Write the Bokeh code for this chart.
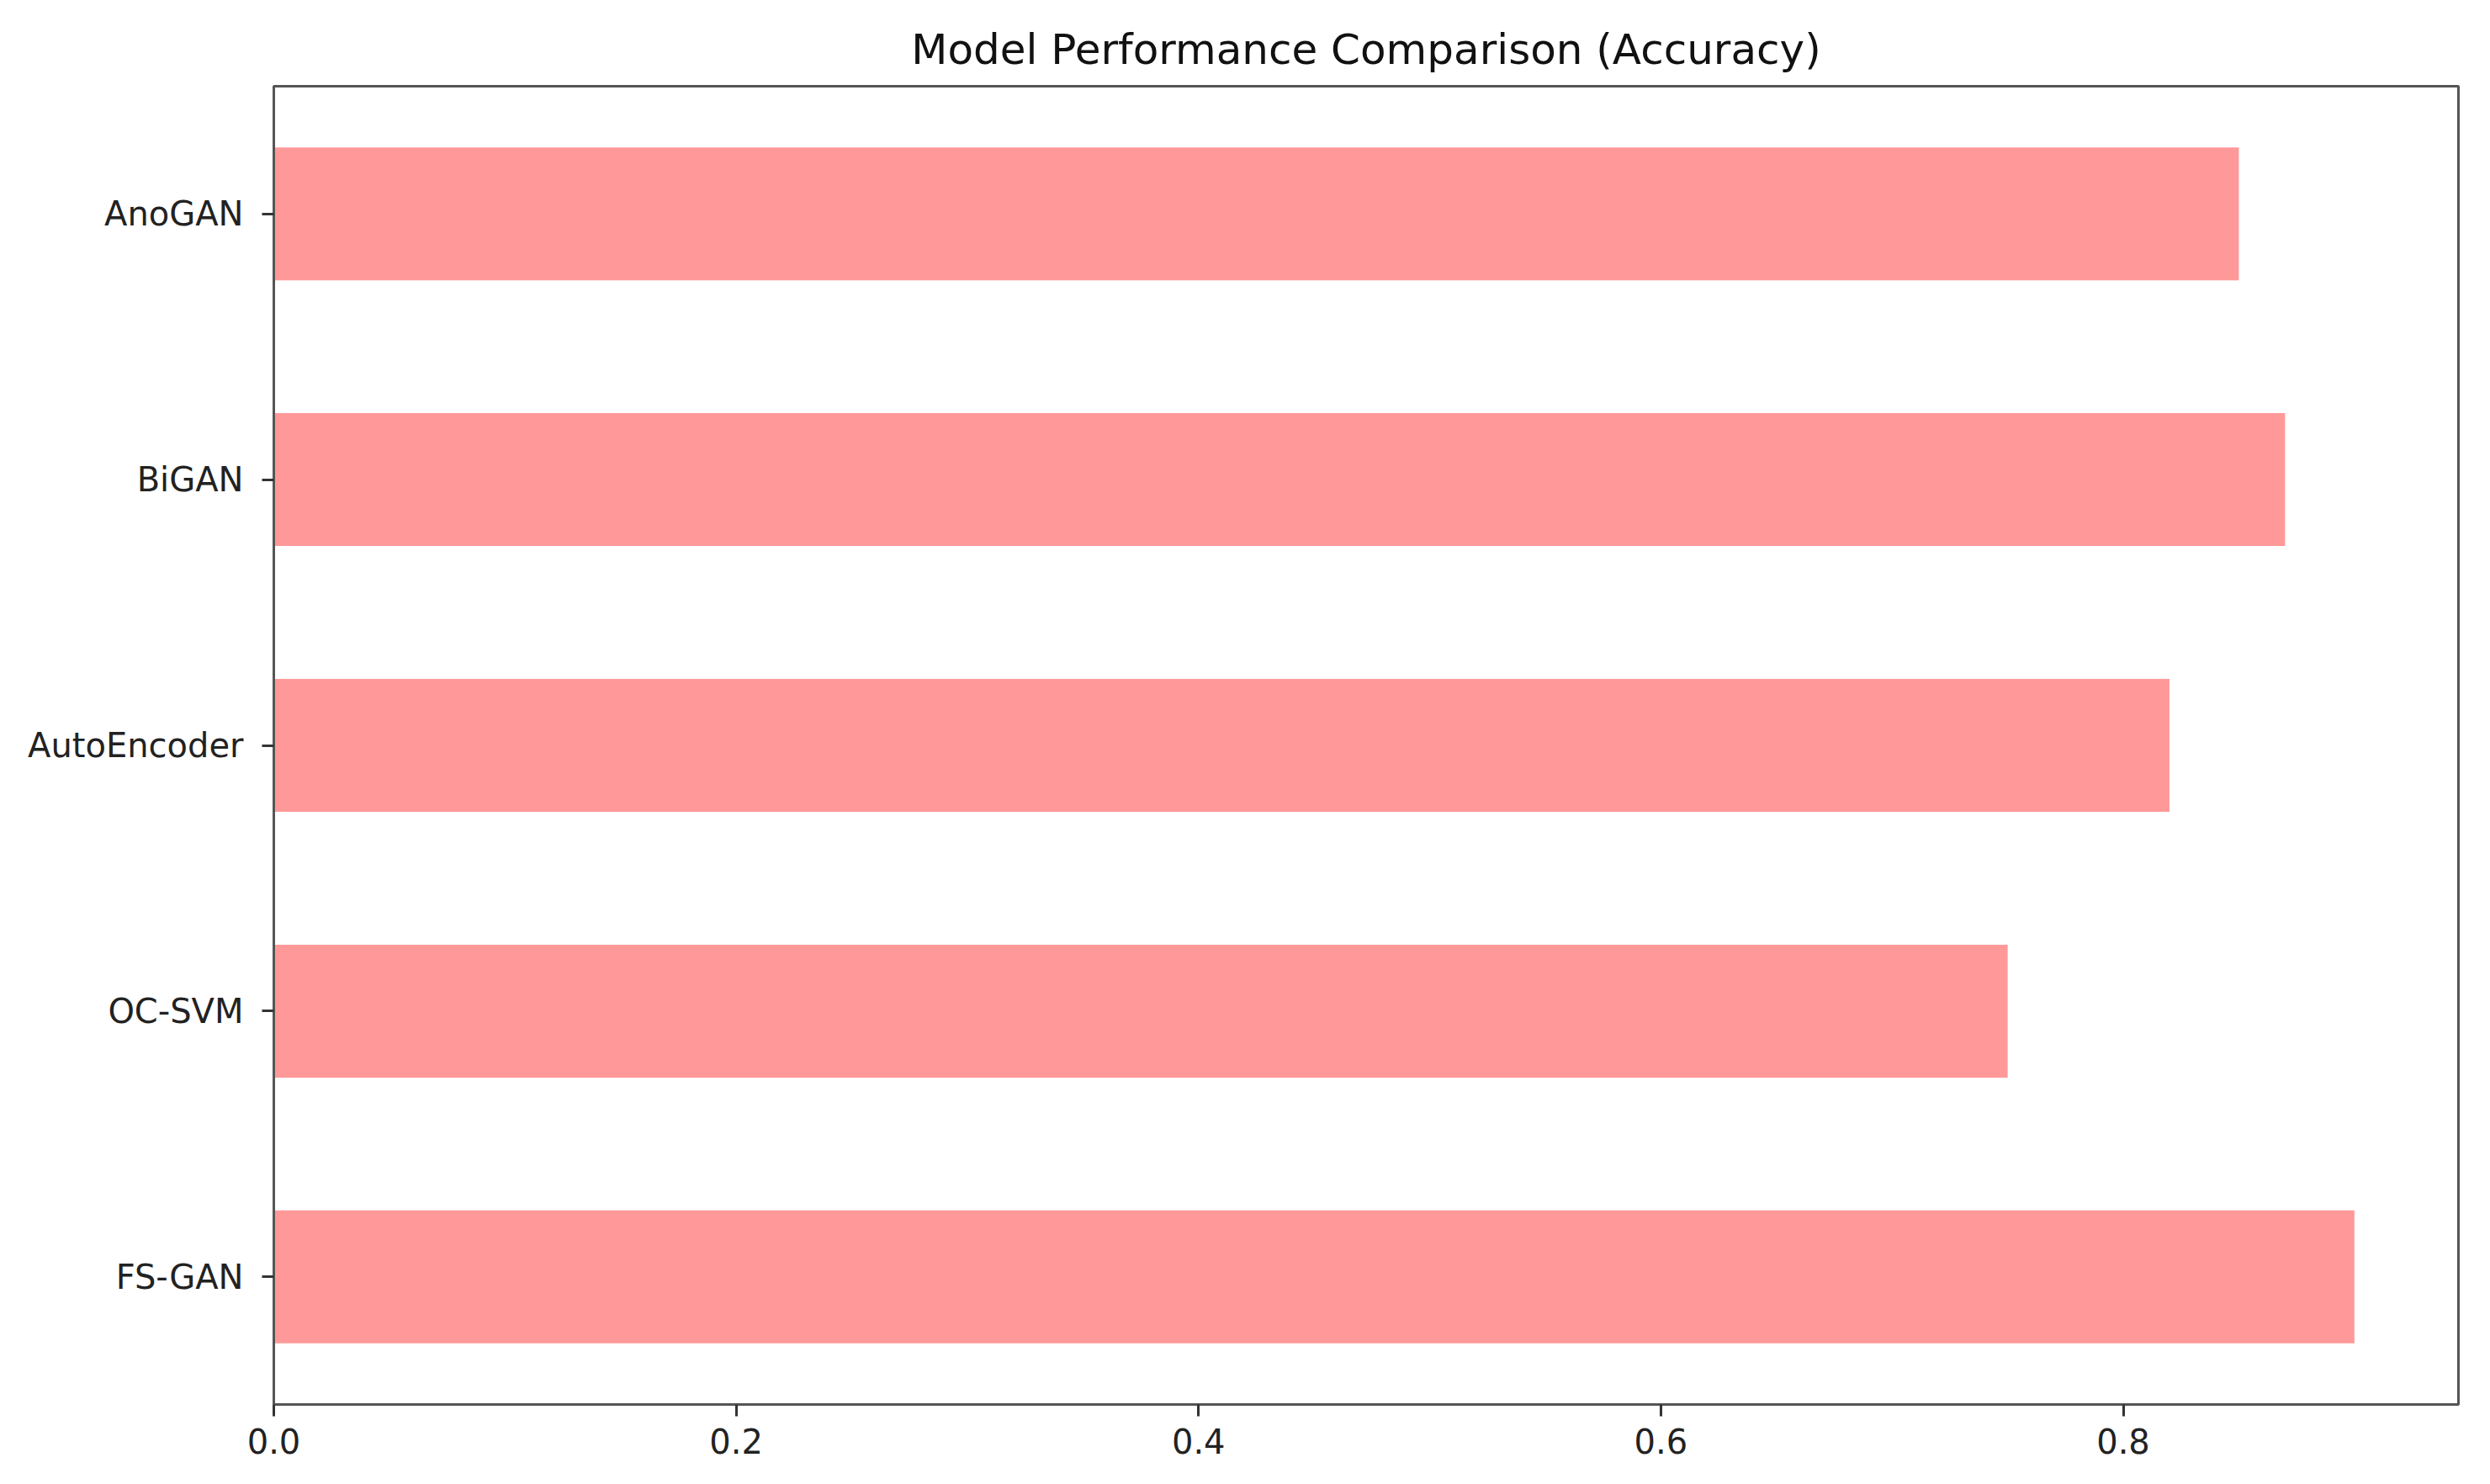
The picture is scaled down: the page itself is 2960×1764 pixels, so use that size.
from bokeh.plotting import figure
from bokeh.models import FactorRange, Range1d, FixedTicker, NumeralTickFormatter, ColumnDataSource
from bokeh.embed import file_html
from bokeh.resources import INLINE

# Data (bottom to top, as drawn)
models = ["FS-GAN", "OC-SVM", "AutoEncoder", "BiGAN", "AnoGAN"]
accuracy = [0.90, 0.75, 0.82, 0.87, 0.85]
x_ticks = [0.0, 0.2, 0.4, 0.6, 0.8]

source = ColumnDataSource(dict(model=models, acc=accuracy))

p = figure(
    width=2944, height=1748,
    y_range=FactorRange(*models, range_padding=-0.008),
    x_range=Range1d(0, 0.945),
    output_backend="svg", toolbar_location=None,
    min_border_left=325, min_border_right=22,
    min_border_top=102, min_border_bottom=79,
    title="Model Performance Comparison (Accuracy)",
)

p.hbar(y="model", right="acc", left=0, height=0.5, source=source,
       fill_color="#ff9999", line_color=None)

p.title.align = "center"
p.title.text_font = "DejaVu Sans"
p.title.text_font_size = "50px"
p.title.text_font_style = "normal"
p.title.text_color = "#111111"
p.title.standoff = 30

p.xgrid.visible = False
p.ygrid.visible = False
p.outline_line_color = "#555555"
p.outline_line_width = 3
p.background_fill_color = "white"
p.border_fill_color = "white"

p.xaxis.ticker = FixedTicker(ticks=x_ticks)
p.xaxis.formatter = NumeralTickFormatter(format="0.0")

for ax in (p.xaxis[0], p.yaxis[0]):
    ax.axis_line_color = "#555555"
    ax.axis_line_width = 3
    ax.major_tick_line_color = "#333333"
    ax.major_tick_line_width = 3
    ax.major_tick_out = 14
    ax.major_tick_in = 0
    ax.minor_tick_line_color = None
    ax.major_label_text_font = "DejaVu Sans"
    ax.major_label_text_font_size = "40px"
    ax.major_label_text_color = "#222222"
    ax.major_label_standoff = 14

p.yaxis.major_label_standoff = 22

open("out.html", "w").write(file_html(p, INLINE))
